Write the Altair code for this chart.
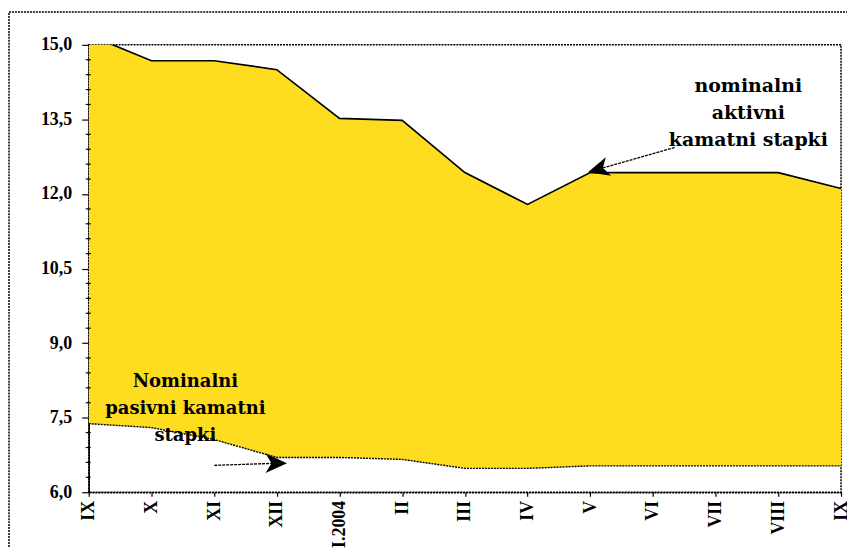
import json
import altair as alt
import pandas as pd

months = ["IX", "X", "XI", "XII", "I.2004", "II", "III", "IV", "V", "VI", "VII", "VIII", "IX"]
active = [15.2, 14.68, 14.68, 14.5, 13.52, 13.48, 12.43, 11.79, 12.43, 12.43, 12.43, 12.43, 12.11]
passive = [7.38, 7.3, 7.06, 6.7, 6.7, 6.66, 6.48, 6.48, 6.53, 6.53, 6.53, 6.53, 6.53]
y_major = [6.0, 7.5, 9.0, 10.5, 12.0, 13.5, 15.0]
y_minor = [round(6 + 0.3 * i, 1) for i in range(31) if i % 5 != 0]

df = pd.DataFrame({"idx": list(range(len(months))), "month": months,
                   "active": active, "passive": passive})
minor_df = pd.DataFrame({"v": y_minor})
one = pd.DataFrame({"k": [0]})

W, H = 755, 449
label_expr = json.dumps(months) + "[datum.value]"

xscale = alt.Scale(domain=[0, 12], nice=False, zero=False)
yscale = alt.Scale(domain=[6, 15], nice=False, zero=False)
x = alt.X("idx:Q", title=None, scale=xscale,
          axis=alt.Axis(values=list(range(13)), labelExpr=label_expr, labelAngle=-90,
                        labelFlush=False, labelOverlap=False,
                        tickSize=4, labelPadding=4, domainDash=[2, 1]))
y = alt.Y("active:Q", title=None, scale=yscale,
          axis=alt.Axis(values=y_major, labelOverlap=False, labelFlush=False,
                        labelExpr="replace(format(datum.value, '.1f'), '.', ',')",
                        tickSize=7, labelPadding=10))

base = alt.Chart(df)
area = base.mark_area(color="#FEDC1F", clip=True).encode(x=x, y=y, y2="passive:Q")
upper = base.mark_line(color="black", strokeWidth=1.7, clip=True).encode(x=x, y=y)
lower = base.mark_line(color="black", strokeWidth=1.4, strokeDash=[2, 1], clip=True).encode(
    x=x, y=alt.Y("passive:Q"))
minor = alt.Chart(minor_df).mark_rule(color="black", strokeWidth=1.2).encode(
    y=alt.Y("v:Q", scale=yscale), x=alt.value(-3), x2=alt.value(2))

FONT = "DejaVu Serif"
txt_top = alt.Chart(one).mark_text(
    text="nominalni\naktivni\nkamatni stapki", lineBreak="\n", lineHeight=27.5,
    font=FONT, fontWeight="bold", fontSize=19, align="center", baseline="middle", color="black"
).encode(x=alt.value(662), y=alt.value(41))
txt_bot = alt.Chart(one).mark_text(
    text="Nominalni\npasivni kamatni\nstapki", lineBreak="\n", lineHeight=27.5,
    font=FONT, fontWeight="bold", fontSize=18, align="center", baseline="middle", color="black"
).encode(x=alt.value(97), y=alt.value(338))

arrow_shape = "M0,-1 L0.75,0.65 L0,0.2 L-0.75,0.65 Z"
line1 = alt.Chart(one).mark_rule(color="black", strokeWidth=1.3, strokeDash=[3, 1]).encode(
    x=alt.value(588), y=alt.value(103), x2=alt.value(511), y2=alt.value(125))
head1 = alt.Chart(one).mark_point(shape=arrow_shape, filled=True, color="black", opacity=1,
                                  size=676, angle=254).encode(x=alt.value(513.5), y=alt.value(124.4))
line2 = alt.Chart(one).mark_rule(color="black", strokeWidth=1.3, strokeDash=[3, 1]).encode(
    x=alt.value(126), y=alt.value(422), x2=alt.value(186), y2=alt.value(420))
head2 = alt.Chart(one).mark_point(shape=arrow_shape, filled=True, color="black", opacity=1,
                                  size=676, angle=90).encode(x=alt.value(186), y=alt.value(420))

frame = alt.Chart(one).mark_rect(fillOpacity=0, stroke="black", strokeWidth=1.5, strokeDash=[2, 1]).encode(
    x=alt.value(-80), x2=alt.value(800), y=alt.value(-33), y2=alt.value(560))

chart = alt.layer(area, upper, lower, minor, txt_top, txt_bot, line1, head1, line2, head2, frame).properties(
    width=W, height=H,
    autosize=alt.AutoSizeParams(type="none"),
    padding={"left": 81, "top": 36, "right": 6, "bottom": 55}
).configure_view(stroke="black", strokeDash=[2, 1], strokeWidth=1.5).configure_axis(
    grid=False, labelFont="Liberation Serif", labelFontWeight="bold", labelFontSize=18,
    labelColor="black", tickColor="black", domainColor="black", domainWidth=1.5, tickWidth=1.2
)

chart.save("out.html", embed_options={"renderer": "svg", "actions": False})
